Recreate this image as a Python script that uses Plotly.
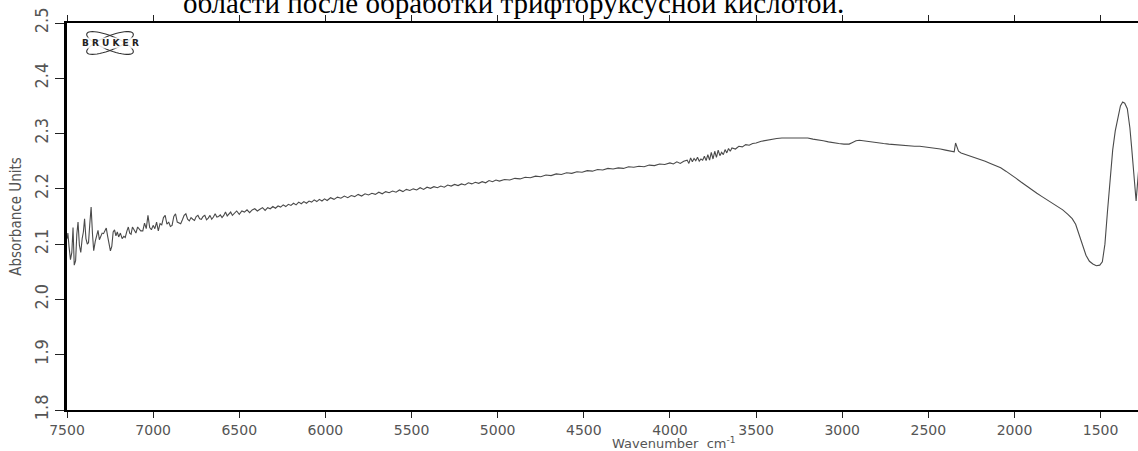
import plotly.graph_objects as go
import numpy as np

# ---- data ----
wavenumber = [
    7498, 7495, 7488, 7480, 7472, 7465, 7458, 7450, 7443, 7436, 7428, 7420, 7412, 7405, 7398, 7390,
    7382, 7375, 7368, 7360, 7352, 7345, 7336, 7328, 7320, 7312, 7304, 7296, 7288, 7280, 7272, 7264,
    7256, 7248, 7240, 7232, 7224, 7216, 7208, 7200, 7190, 7180, 7170, 7162, 7152, 7144, 7136, 7128,
    7120, 7110, 7100, 7090, 7080, 7072, 7060, 7050, 7040, 7030, 7020, 7010, 7000, 6990, 6980, 6970,
    6960, 6950, 6940, 6930, 6920, 6910, 6900, 6890, 6880, 6870, 6860, 6850, 6840, 6830, 6820, 6810,
    6800, 6790, 6780, 6770, 6760, 6750, 6740, 6730, 6720, 6710, 6700, 6690, 6680, 6670, 6660, 6650,
    6640, 6630, 6620, 6610, 6600, 6590, 6580, 6570, 6560, 6550, 6540, 6530, 6515, 6500, 6485, 6470,
    6455, 6440, 6425, 6410, 6395, 6380, 6365, 6350, 6335, 6320, 6305, 6290, 6275, 6260, 6245, 6230,
    6215, 6200, 6185, 6170, 6155, 6140, 6125, 6110, 6095, 6080, 6065, 6050, 6035, 6020, 6005, 5990,
    5970, 5950, 5930, 5910, 5890, 5870, 5850, 5830, 5810, 5790, 5770, 5750, 5730, 5710, 5690, 5670,
    5650, 5630, 5610, 5590, 5570, 5550, 5530, 5510, 5490, 5470, 5450, 5430, 5410, 5390, 5370, 5350,
    5330, 5310, 5290, 5270, 5250, 5230, 5210, 5190, 5170, 5150, 5130, 5110, 5090, 5070, 5050, 5030,
    5010, 4990, 4960, 4930, 4900, 4870, 4840, 4810, 4780, 4750, 4720, 4690, 4660, 4630, 4600, 4570,
    4540, 4510, 4480, 4450, 4420, 4390, 4360, 4330, 4300, 4270, 4240, 4210, 4180, 4150, 4120, 4090,
    4060, 4030, 4000, 3980, 3960, 3940, 3920, 3900, 3890, 3880, 3870, 3860, 3850, 3840, 3830, 3820,
    3810, 3800, 3790, 3780, 3770, 3760, 3750, 3740, 3730, 3720, 3710, 3700, 3690, 3680, 3670, 3660,
    3650, 3640, 3620, 3600, 3580, 3560, 3540, 3520, 3500, 3470, 3440, 3410, 3380, 3350, 3320, 3290,
    3260, 3230, 3200, 3170, 3140, 3110, 3080, 3050, 3020, 2990, 2960, 2940, 2920, 2900, 2880, 2850,
    2820, 2790, 2760, 2730, 2700, 2670, 2640, 2610, 2580, 2550, 2520, 2490, 2460, 2430, 2400, 2370,
    2350, 2342, 2335, 2325, 2310, 2290, 2260, 2230, 2200, 2170, 2140, 2110, 2080, 2050, 2020, 1990,
    1960, 1930, 1900, 1870, 1840, 1810, 1780, 1750, 1720, 1690, 1665, 1645, 1625, 1605, 1585, 1565,
    1545, 1525, 1505, 1490, 1475, 1460, 1445, 1430, 1415, 1400, 1385, 1372, 1360, 1345, 1330, 1320,
    1310, 1300, 1294, 1287, 1280,
]

absorbance = [
    2.110, 2.120, 2.095, 2.072, 2.085, 2.130, 2.062, 2.070, 2.118, 2.140, 2.098, 2.085, 2.110, 2.122, 2.146, 2.110,
    2.100, 2.103, 2.135, 2.167, 2.118, 2.088, 2.105, 2.118, 2.125, 2.108, 2.113, 2.120, 2.119, 2.126, 2.129, 2.114,
    2.100, 2.088, 2.096, 2.122, 2.126, 2.115, 2.122, 2.113, 2.120, 2.110, 2.114, 2.112, 2.124, 2.131, 2.120, 2.118,
    2.131, 2.126, 2.120, 2.131, 2.128, 2.124, 2.124, 2.138, 2.128, 2.152, 2.130, 2.126, 2.134, 2.128, 2.140, 2.124,
    2.137, 2.135, 2.148, 2.152, 2.136, 2.140, 2.132, 2.134, 2.150, 2.155, 2.140, 2.138, 2.137, 2.144, 2.152, 2.155,
    2.145, 2.142, 2.148, 2.145, 2.143, 2.150, 2.152, 2.146, 2.145, 2.150, 2.152, 2.144, 2.147, 2.152, 2.145, 2.149,
    2.155, 2.149, 2.150, 2.153, 2.148, 2.152, 2.158, 2.151, 2.154, 2.158, 2.152, 2.156, 2.160, 2.154, 2.160, 2.158,
    2.162, 2.157, 2.162, 2.164, 2.160, 2.163, 2.166, 2.161, 2.166, 2.164, 2.168, 2.165, 2.169, 2.167, 2.171, 2.168,
    2.172, 2.170, 2.174, 2.171, 2.176, 2.173, 2.177, 2.174, 2.178, 2.176, 2.180, 2.177, 2.181, 2.178, 2.182, 2.179,
    2.184, 2.181, 2.185, 2.183, 2.187, 2.184, 2.188, 2.186, 2.190, 2.187, 2.191, 2.189, 2.192, 2.190, 2.194, 2.191,
    2.195, 2.193, 2.196, 2.194, 2.198, 2.195, 2.199, 2.197, 2.200, 2.198, 2.202, 2.199, 2.203, 2.201, 2.204, 2.202,
    2.205, 2.203, 2.207, 2.205, 2.208, 2.206, 2.209, 2.207, 2.211, 2.209, 2.212, 2.210, 2.213, 2.211, 2.215, 2.213,
    2.216, 2.214, 2.217, 2.216, 2.219, 2.218, 2.221, 2.220, 2.223, 2.222, 2.225, 2.224, 2.227, 2.226, 2.229, 2.228,
    2.231, 2.230, 2.233, 2.232, 2.235, 2.234, 2.237, 2.236, 2.238, 2.237, 2.240, 2.239, 2.241, 2.240, 2.243, 2.242,
    2.245, 2.244, 2.247, 2.245, 2.249, 2.246, 2.250, 2.252, 2.246, 2.256, 2.249, 2.255, 2.251, 2.257, 2.250, 2.254,
    2.252, 2.259, 2.251, 2.262, 2.252, 2.266, 2.254, 2.268, 2.257, 2.270, 2.260, 2.266, 2.262, 2.271, 2.265, 2.273,
    2.268, 2.274, 2.272, 2.277, 2.276, 2.280, 2.279, 2.282, 2.283, 2.286, 2.288, 2.290, 2.291, 2.292, 2.292, 2.293,
    2.293, 2.292, 2.292, 2.290, 2.289, 2.287, 2.285, 2.283, 2.282, 2.281, 2.281, 2.284, 2.287, 2.288, 2.287, 2.286,
    2.284, 2.283, 2.282, 2.281, 2.280, 2.279, 2.279, 2.278, 2.277, 2.277, 2.276, 2.275, 2.274, 2.272, 2.270, 2.268,
    2.267, 2.283, 2.276, 2.268, 2.265, 2.263, 2.260, 2.257, 2.254, 2.250, 2.246, 2.242, 2.238, 2.232, 2.226, 2.219,
    2.212, 2.205, 2.198, 2.192, 2.186, 2.180, 2.174, 2.168, 2.162, 2.154, 2.146, 2.136, 2.118, 2.098, 2.080, 2.069,
    2.064, 2.061, 2.062, 2.068, 2.100, 2.160, 2.220, 2.270, 2.305, 2.330, 2.350, 2.357, 2.355, 2.345, 2.310, 2.275,
    2.235, 2.195, 2.178, 2.205, 2.232,
]

y_ticks = [1.8, 1.9, 2.0, 2.1, 2.2, 2.3, 2.4, 2.5]
x_ticks = [7500, 7000, 6500, 6000, 5500, 5000, 4500, 4000, 3500, 3000, 2500, 2000, 1500]

caption = "области после обработки трифторуксусной кислотой."

W, H = 1138, 451
ML, MR, MT, MB = 67, 0, 23, 41
PW, PH = W - ML - MR, H - MT - MB

fig = go.Figure()
fig.add_trace(go.Scatter(
    x=wavenumber, y=absorbance, mode="lines",
    line=dict(color="#4a4a4a", width=1.1),
    hoverinfo="skip", showlegend=False,
))

narrow = "Liberation Sans Narrow, DejaVu Sans Condensed, Arial Narrow, sans-serif"

fig.update_layout(
    width=W, height=H,
    margin=dict(l=ML, r=MR, t=MT, b=MB, pad=0),
    paper_bgcolor="white", plot_bgcolor="white",
    xaxis=dict(
        range=[7500, 1283], tickvals=x_ticks, tickformat="d",
        showgrid=False, zeroline=False,
        showline=True, linecolor="black", linewidth=2, mirror="ticks",
        ticks="outside", ticklen=6, tickwidth=1.3, tickcolor="#222",
        tickfont=dict(family="DejaVu Sans, sans-serif", size=14, color="#555"),
    ),
    yaxis=dict(
        range=[1.8, 2.5], tickvals=y_ticks, tickformat=".1f",
        showgrid=False, zeroline=False,
        showline=True, linecolor="black", linewidth=2.5,
        ticks="outside", ticklen=9, tickwidth=1.3, tickcolor="#222",
        tickangle=-90,
        tickfont=dict(family=narrow, size=18, color="#555"),
        title=dict(text="Absorbance Units", standoff=6,
                   font=dict(family=narrow, size=15, color="#555")),
    ),
)

# x-axis title (offset to the right like the original)
fig.add_annotation(
    x=(674 - ML) / PW, y=-(443 - MT - PH) / PH, xref="paper", yref="paper",
    text="Wavenumber  cm<sup>-1</sup>", showarrow=False,
    font=dict(family="DejaVu Sans, sans-serif", size=13, color="#555"),
    xanchor="center", yanchor="middle",
)

# caption text cut off at the top of the page
fig.add_annotation(
    x=(513 - ML) / PW, y=1 + (MT - 3) / PH, xref="paper", yref="paper",
    text=caption, showarrow=False,
    font=dict(family="Liberation Serif, Times New Roman, serif", size=29, color="black"),
    xanchor="center", yanchor="middle",
)

# Bruker logo (decoration)
cx, cy = 110, 43
def px2paper(px, py):
    return (px - ML) / PW, 1 - (py - MT) / PH

for ang in (22, -22):
    t = np.linspace(0, 2 * np.pi, 48)
    a, b = 25, 7
    th = np.deg2rad(ang)
    xs = cx + a * np.cos(t) * np.cos(th) - b * np.sin(t) * np.sin(th)
    ys = cy + a * np.cos(t) * np.sin(th) + b * np.sin(t) * np.cos(th)
    pts = [px2paper(x_, y_) for x_, y_ in zip(xs, ys)]
    path = "M " + " L ".join(f"{p[0]:.5f},{p[1]:.5f}" for p in pts) + " Z"
    fig.add_shape(type="path", path=path, xref="paper", yref="paper",
                  line=dict(color="#333", width=1.1))

lx, ly = px2paper(cx, cy)
fig.add_annotation(
    x=lx, y=ly, xref="paper", yref="paper", text="<b>B R U K E R</b>", showarrow=False,
    font=dict(family="DejaVu Sans, sans-serif", size=9, color="#222"),
    bgcolor="rgba(255,255,255,0.85)", borderpad=0,
    xanchor="center", yanchor="middle",
)

fig.write_html("out.html")
